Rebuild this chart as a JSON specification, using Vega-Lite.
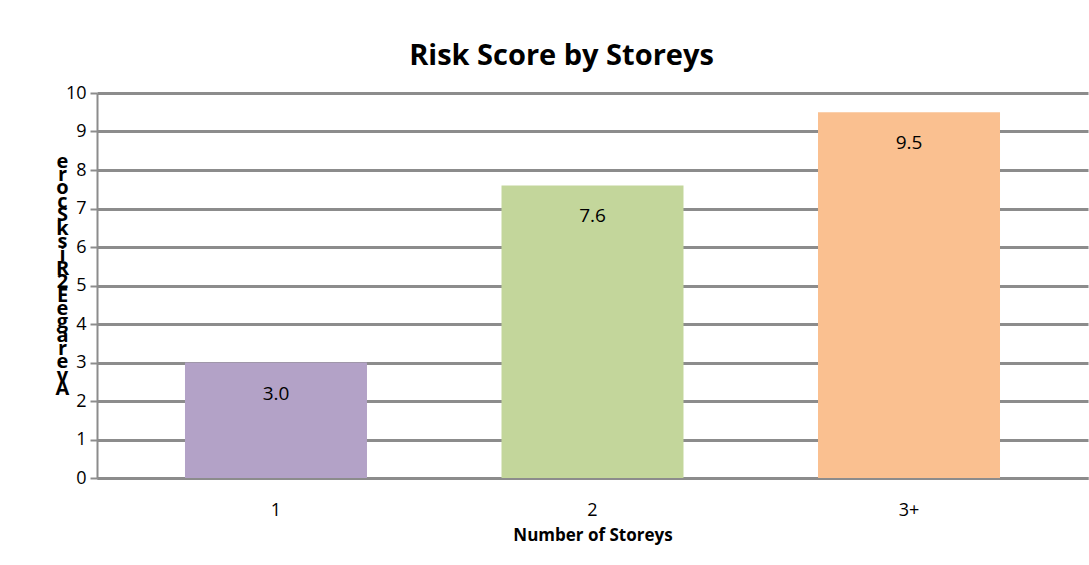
{
  "$schema": "https://vega.github.io/schema/vega-lite/v6.json",
  "autosize": "none",
  "width": 991,
  "height": 385,
  "padding": {"left": 97, "top": 93, "right": 1, "bottom": 87},
  "background": "white",
  "title": {
    "text": "Risk Score by Storeys",
    "font": "Open Sans",
    "fontSize": 29,
    "fontWeight": "bold",
    "color": "#000000",
    "anchor": "middle",
    "offset": 13,
    "dx": -31
  },
  "data": {
    "values": [
      {"storeys": "1", "score": 3.0},
      {"storeys": "2", "score": 7.6},
      {"storeys": "3+", "score": 9.5}
    ]
  },
  "encoding": {
    "x": {
      "field": "storeys",
      "type": "nominal",
      "sort": null,
      "scale": {"paddingInner": 0.425, "paddingOuter": 0.278},
      "axis": {
        "title": "Number of Storeys",
        "titleFont": "Open Sans",
        "titleFontSize": 17,
        "titleFontWeight": "bold",
        "titleColor": "#000000",
        "titlePadding": 8,
        "labelAngle": 0,
        "labelFont": "Open Sans",
        "labelFontSize": 18,
        "labelColor": "#000000",
        "labelPadding": 23,
        "domainColor": "#8c8c8c",
        "domainWidth": 3,
        "ticks": false
      }
    },
    "y": {
      "field": "score",
      "type": "quantitative",
      "scale": {"domain": [0, 10], "nice": false},
      "axis": {
        "values": [0, 1, 2, 3, 4, 5, 6, 7, 8, 9, 10],
        "title": ["e", "r", "o", "c", "S", "k", "s", "i", "R", "2", "E", "e", "g", "a", "r", "e", "v", "A"],
        "titleAngle": 0,
        "titleFont": "Open Sans",
        "titleFontSize": 20,
        "titleFontWeight": "bold",
        "titleColor": "#000000",
        "titleLineHeight": 13.4,
        "titleAlign": "center",
        "titleBaseline": "top",
        "titleX": -35,
        "titleY": 58,
        "labelFont": "Open Sans",
        "labelFontSize": 18,
        "labelColor": "#000000",
        "labelPadding": 4,
        "domainColor": "#8c8c8c",
        "domainWidth": 2,
        "tickColor": "#8c8c8c",
        "tickWidth": 2,
        "tickSize": 7,
        "gridColor": "#8c8c8c",
        "gridWidth": 3
      }
    }
  },
  "layer": [
    {
      "mark": {"type": "bar"},
      "encoding": {
        "color": {
          "field": "storeys",
          "type": "nominal",
          "scale": {"domain": ["1", "2", "3+"], "range": ["#B3A2C7", "#C3D69B", "#FAC090"]},
          "legend": null
        }
      }
    },
    {
      "mark": {"type": "text", "dy": 31, "font": "Open Sans", "fontSize": 19, "color": "#000000"},
      "encoding": {
        "text": {"field": "score", "type": "quantitative", "format": ".1f"}
      }
    }
  ],
  "config": {"view": {"stroke": null}}
}
